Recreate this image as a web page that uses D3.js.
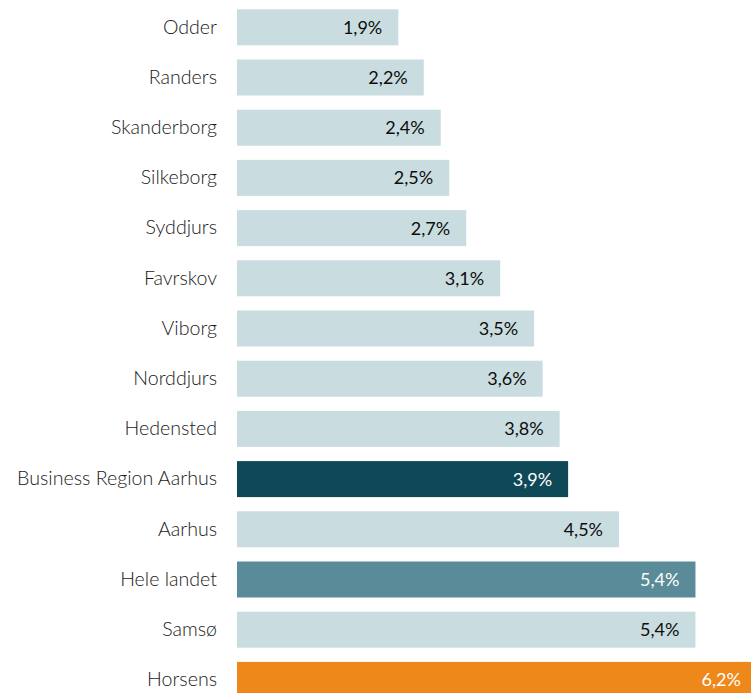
<!DOCTYPE html>
<html>
<head>
<meta charset="utf-8">
<script src="https://cdn.jsdelivr.net/npm/d3@7/dist/d3.min.js"></script>
<style>
  html, body { margin: 0; padding: 0; background: #ffffff; overflow: hidden; }
  svg { display: block; }
  text { font-family: Lato, "Open Sans", sans-serif; font-weight: 300; }
</style>
</head>
<body>
<svg id="chart" width="751" height="693"></svg>
<script>
// Kommuner / områder, top to bottom
const categories = [
  "Odder", "Randers", "Skanderborg", "Silkeborg", "Syddjurs", "Favrskov",
  "Viborg", "Norddjurs", "Hedensted", "Business Region Aarhus", "Aarhus",
  "Hele landet", "Samsø", "Horsens"
];
// Andel i procent
const values = [1.9, 2.2, 2.4, 2.5, 2.7, 3.1, 3.5, 3.6, 3.8, 3.9, 4.5, 5.4, 5.4, 6.2];
// Bar style group per row
const groups = [
  "kommune", "kommune", "kommune", "kommune", "kommune", "kommune",
  "kommune", "kommune", "kommune", "region", "kommune",
  "land", "kommune", "fokus"
];

const fillColor = { kommune: "#c9dde1", region: "#0f4857", land: "#5a8b98", fokus: "#ee881a" };
const labelColor = { kommune: "#0d0d0d", region: "#ffffff", land: "#ffffff", fokus: "#ffffff" };

const rows = categories.map((c, i) => ({ name: c, value: values[i], group: groups[i] }));

const svg = d3.select("#chart");
const W = 751, H = 693;

const x0 = 237;
const x = d3.scaleLinear().domain([0, 6.2]).range([x0, x0 + 6.2 * 84.9]);

const step = 50.2;
const y = d3.scaleBand()
  .domain(categories)
  .range([2.2, 2.2 + categories.length * step])
  .paddingInner(0.283)
  .paddingOuter(0.1415);

const clip = svg.append("defs").append("clipPath").attr("id", "plotclip");
clip.append("rect").attr("x", 0).attr("y", 0).attr("width", W).attr("height", H);

const g = svg.append("g").attr("clip-path", "url(#plotclip)");

g.selectAll("rect.bar")
  .data(rows)
  .join("rect")
  .attr("class", "bar")
  .attr("x", x(0))
  .attr("y", d => y(d.name))
  .attr("width", d => x(d.value) - x(0))
  .attr("height", y.bandwidth())
  .attr("fill", d => fillColor[d.group]);

const fmt = v => d3.format(".1f")(v).replace(".", ",") + "%";

g.selectAll("text.value")
  .data(rows)
  .join("text")
  .attr("class", "value")
  .attr("x", d => Math.min(x(d.value), W + 6) - 16)
  .attr("y", d => y(d.name) + y.bandwidth() / 2)
  .attr("dy", "0.36em")
  .attr("text-anchor", "end")
  .attr("font-size", 18)
  .style("font-weight", 400)
  .attr("fill", d => labelColor[d.group])
  .text(d => fmt(d.value));

// Category axis without line or ticks
const yAxis = d3.axisLeft(y).tickSize(0).tickPadding(0);
const ax = svg.append("g")
  .attr("transform", `translate(217,0)`)
  .call(yAxis);
ax.select(".domain").remove();
ax.selectAll("text")
  .attr("font-size", 19.6)
  .attr("fill", "#1a1a1a")
  .style("font-family", "Lato, 'Open Sans', sans-serif")
  .style("font-weight", 300);
</script>
</body>
</html>
